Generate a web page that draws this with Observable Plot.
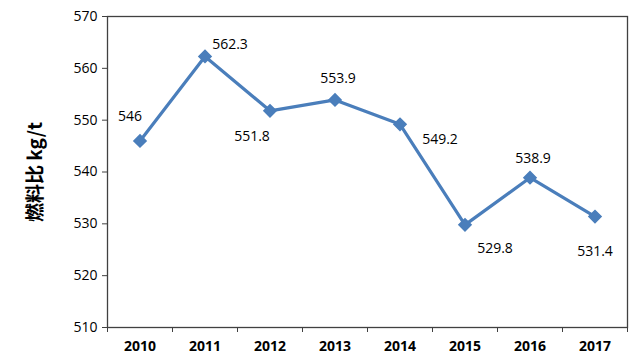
<!DOCTYPE html>
<html><head><meta charset="utf-8">
<script src="https://cdn.jsdelivr.net/npm/d3@7"></script>
<script src="https://cdn.jsdelivr.net/npm/@observablehq/plot@0.6"></script>
<style>
body{margin:0;background:#fff;}
#chart svg{display:block;}
</style>
</head><body><div id="chart"></div>
<script>
const years = [2010, 2011, 2012, 2013, 2014, 2015, 2016, 2017];
const values = [546, 562.3, 551.8, 553.9, 549.2, 529.8, 538.9, 531.4];
const labels = ["546", "562.3", "551.8", "553.9", "549.2", "529.8", "538.9", "531.4"];
const yTicks = [510, 520, 530, 540, 550, 560, 570];

const place = {
  2010: [-10, -24], 2011: [25, -12], 2012: [-18, 26], 2013: [3, -21],
  2014: [40, 15], 2015: [30, 24], 2016: [3, -19], 2017: [0, 35]
};
const data = years.map((y, i) => ({year: y, value: values[i], label: labels[i], dx: place[y][0], dy: place[y][1]}));
const bounds = [years[0] - 0.5, ...years.map(y => y + 0.5)];
const color = "#4A7EBB";
const font = "'Open Sans', 'Liberation Sans', sans-serif";

const chart = Plot.plot({
  width: 643, height: 362,
  marginLeft: 107, marginRight: 16, marginTop: 16, marginBottom: 35,
  style: {fontFamily: font, fontSize: "14px", color: "#000", background: "#fff"},
  x: {domain: [years[0] - 0.5, years[years.length - 1] + 0.5]},
  y: {domain: [510, 570]},
  marks: [
    Plot.frame({stroke: "#404040", strokeWidth: 1.3}),
    Plot.axisY({ticks: yTicks, tickSize: 5, tickPadding: 5, label: null, tickFormat: d => String(d), fontSize: 14, stroke: "#404040"}),
    Plot.axisX({ticks: years, tickSize: 0, tickPadding: 14, label: null, tickFormat: d => String(d), fontSize: 14, fontWeight: "bold"}),
    Plot.axisX({ticks: bounds, tickSize: 5, tickFormat: () => "", label: null, stroke: "#404040"}),
    Plot.line(data, {x: "year", y: "value", stroke: color, strokeWidth: 3.2}),
    Plot.dot(data, {x: "year", y: "value", symbol: "diamond2", r: 5.5, fill: color, stroke: color}),
    ...data.map(d => Plot.text([d], {x: "year", y: "value", text: "label", dx: d.dx, dy: d.dy, fontSize: 14, fill: "#000"})),
    Plot.text(["燃料比 kg/t"], {frameAnchor: "left", textAnchor: "middle", dx: -72, rotate: -90, fontSize: 19, fontWeight: "bold", fill: "#000", fontFamily: "'Noto Sans CJK SC', 'Open Sans', sans-serif"})
  ]
});
document.getElementById("chart").appendChild(chart);
</script>
</body></html>
